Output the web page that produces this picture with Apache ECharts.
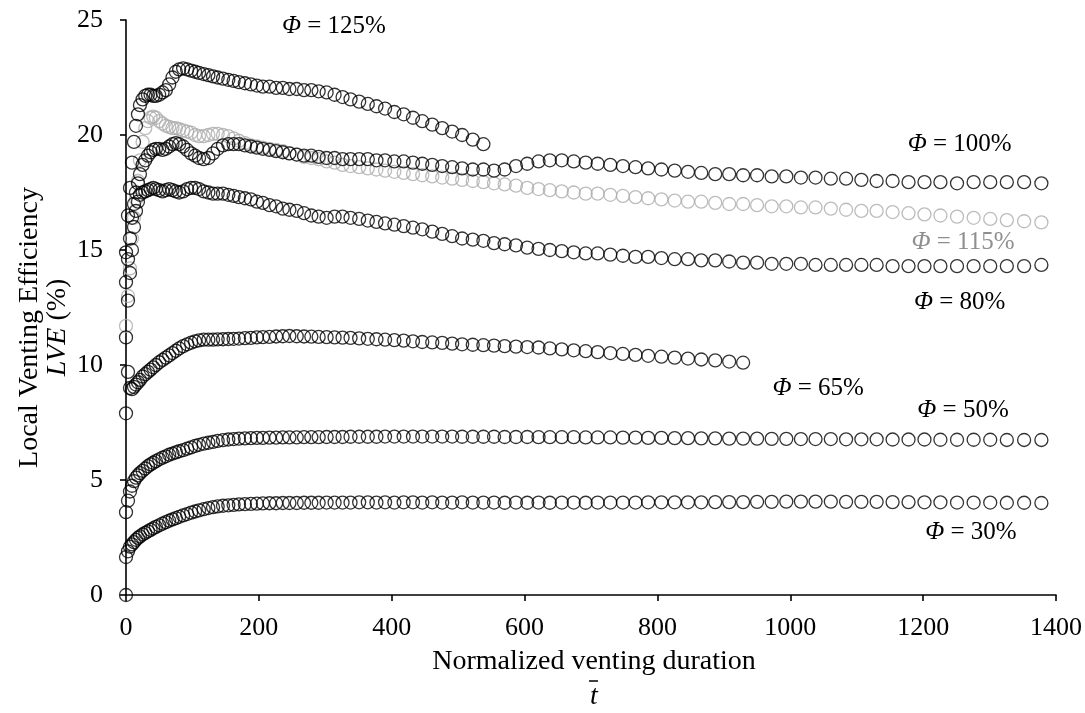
<!DOCTYPE html>
<html>
<head>
<meta charset="utf-8">
<script src="https://cdn.jsdelivr.net/npm/echarts@6/dist/echarts.min.js"></script>
<style>
html, body { margin: 0; padding: 0; background: #fff; }
#chart { width: 1085px; height: 713px; }
</style>
</head>
<body>
<div id="chart"></div>
<script>
// Normalized venting duration (shared sampling grid)
const tBar = [0, 3, 6, 9, 12, 15, 18, 21, 25, 29,
  33, 37, 41, 45, 50, 55, 60, 65, 70, 75,
  80, 86, 92, 98, 104, 110, 117, 124, 131, 138,
  146, 154, 162, 170, 179, 188, 197, 206, 216, 226,
  236, 246, 257, 268, 279, 290, 302, 314, 326, 338,
  351, 364, 377, 390, 404, 418, 432, 446, 461, 476,
  491, 506, 522, 538, 554, 570, 587, 604, 621, 638,
  656, 674, 692, 710, 729, 748, 767, 786, 806, 826,
  846, 866, 887, 908, 929, 950, 972, 994, 1016, 1038,
  1061, 1084, 1107, 1130, 1154, 1178, 1202, 1226, 1251, 1276,
  1301, 1326, 1352, 1378];

// Initial state shared by all runs: (t, LVE) = (0, 0)
const startPoint = [[0, 0]];

// Local venting efficiency LVE (%) for each fill ratio
const lve30 = [1.65, 1.9, 2.1, 2.2, 2.3, 2.4, 2.48, 2.55, 2.63, 2.7,
  2.77, 2.83, 2.9, 2.96, 3.03, 3.1, 3.17, 3.23, 3.29, 3.34,
  3.4, 3.46, 3.52, 3.58, 3.63, 3.68, 3.73, 3.78, 3.82, 3.85,
  3.88, 3.9, 3.92, 3.94, 3.95, 3.96, 3.97, 3.98, 3.99, 3.99,
  4.0, 4.0, 4.0, 4.01, 4.01, 4.01, 4.02, 4.02, 4.02, 4.02,
  4.03, 4.03, 4.02, 4.03, 4.02, 4.03, 4.03, 4.02, 4.03, 4.02,
  4.02, 4.03, 4.02, 4.02, 4.02, 4.01, 4.02, 4.01, 4.02, 4.01,
  4.02, 4.02, 4.01, 4.02, 4.02, 4.02, 4.02, 4.03, 4.03, 4.03,
  4.03, 4.03, 4.04, 4.04, 4.04, 4.05, 4.05, 4.06, 4.06, 4.06,
  4.06, 4.05, 4.05, 4.05, 4.04, 4.04, 4.03, 4.03, 4.02, 4.02,
  4.02, 4.01, 4.01, 4.0];

const lve50 = [3.6, 4.1, 4.5, 4.75, 4.95, 5.1, 5.2, 5.3, 5.4, 5.5,
  5.6, 5.68, 5.75, 5.82, 5.9, 5.97, 6.03, 6.1, 6.15, 6.2,
  6.25, 6.3, 6.36, 6.42, 6.48, 6.53, 6.58, 6.62, 6.66, 6.7,
  6.73, 6.76, 6.78, 6.8, 6.81, 6.82, 6.83, 6.83, 6.84, 6.84,
  6.85, 6.85, 6.85, 6.86, 6.86, 6.86, 6.87, 6.87, 6.87, 6.88,
  6.88, 6.88, 6.88, 6.89, 6.89, 6.89, 6.89, 6.89, 6.89, 6.89,
  6.89, 6.88, 6.88, 6.88, 6.88, 6.87, 6.87, 6.87, 6.86, 6.86,
  6.86, 6.86, 6.85, 6.85, 6.85, 6.84, 6.84, 6.83, 6.83, 6.82,
  6.82, 6.81, 6.81, 6.8, 6.8, 6.8, 6.79, 6.79, 6.78, 6.78,
  6.78, 6.77, 6.77, 6.77, 6.76, 6.76, 6.76, 6.75, 6.75, 6.75,
  6.75, 6.74, 6.74, 6.74];

const lve65 = [7.9, 9.7, 9.0, 8.95, 9.05, 9.15, 9.25, 9.35, 9.5, 9.6,
  9.7, 9.8, 9.9, 10.0, 10.12, 10.22, 10.32, 10.42, 10.52, 10.62,
  10.72, 10.82, 10.9, 10.97, 11.03, 11.07, 11.1, 11.1, 11.1, 11.11,
  11.12, 11.13, 11.14, 11.15, 11.17, 11.18, 11.2, 11.21, 11.22, 11.24,
  11.25, 11.26, 11.25, 11.24, 11.23, 11.22, 11.21, 11.2, 11.19, 11.18,
  11.16, 11.14, 11.12, 11.1, 11.08, 11.06, 11.03, 11.0, 10.98, 10.96,
  10.93, 10.9, 10.88, 10.86, 10.84, 10.82, 10.8, 10.78, 10.76, 10.72,
  10.68, 10.64, 10.6, 10.56, 10.52, 10.48, 10.44, 10.4, 10.36, 10.32,
  10.28, 10.24, 10.2, 10.15, 10.1];

const lve80 = [11.2, 12.8, 14.0, 15.0, 16.0, 16.7, 17.1, 17.4, 17.5, 17.55,
  17.6, 17.65, 17.7, 17.65, 17.6, 17.55, 17.6, 17.65, 17.6, 17.55,
  17.5, 17.55, 17.65, 17.7, 17.7, 17.65, 17.55, 17.5, 17.45, 17.45,
  17.45, 17.4, 17.35, 17.3, 17.25, 17.2, 17.1, 17.05, 16.95, 16.9,
  16.8, 16.75, 16.7, 16.6, 16.5, 16.45, 16.4, 16.45, 16.45, 16.4,
  16.35, 16.28, 16.22, 16.16, 16.1, 16.04, 15.97, 15.9, 15.8, 15.7,
  15.6, 15.5, 15.45, 15.4, 15.3, 15.25, 15.2, 15.1, 15.05, 15.0,
  14.95, 14.9, 14.85, 14.85, 14.8, 14.75, 14.7, 14.7, 14.65, 14.6,
  14.6, 14.55, 14.55, 14.5, 14.45, 14.45, 14.4, 14.4, 14.4, 14.35,
  14.35, 14.35, 14.35, 14.35, 14.3, 14.3, 14.3, 14.3, 14.3, 14.3,
  14.3, 14.3, 14.3, 14.35];

const lve100 = [13.6, 14.6, 15.5, 16.4, 17.0, 17.5, 17.9, 18.3, 18.7, 18.9,
  19.1, 19.25, 19.35, 19.4, 19.4, 19.35, 19.4, 19.5, 19.6, 19.65,
  19.6, 19.5, 19.35, 19.2, 19.1, 19.0, 18.95, 19.0, 19.2, 19.4,
  19.55, 19.6, 19.6, 19.6, 19.55, 19.5, 19.45, 19.4, 19.35, 19.3,
  19.25, 19.2, 19.15, 19.1, 19.1, 19.05, 19.0, 19.0, 18.95, 18.95,
  18.95, 18.95, 18.9, 18.9, 18.85, 18.85, 18.8, 18.75, 18.7, 18.65,
  18.6, 18.55, 18.5, 18.5, 18.45, 18.5, 18.65, 18.75, 18.85, 18.9,
  18.9, 18.85, 18.8, 18.75, 18.7, 18.65, 18.6, 18.55, 18.5, 18.45,
  18.4, 18.35, 18.3, 18.3, 18.25, 18.25, 18.2, 18.2, 18.15, 18.15,
  18.1, 18.1, 18.05, 18.0, 18.0, 17.95, 17.95, 17.95, 17.9, 17.95,
  17.95, 17.95, 17.95, 17.9];

const lve115 = [11.7, 13.0, 14.2, 15.5, 16.4, 17.2, 18.0, 18.9, 19.7, 20.3,
  20.6, 20.75, 20.8, 20.75, 20.6, 20.5, 20.4, 20.35, 20.3, 20.3,
  20.25, 20.2, 20.15, 20.1, 20.0, 19.95, 19.95, 20.0, 20.05, 20.05,
  20.0, 19.95, 19.85, 19.75, 19.65, 19.55, 19.5, 19.45, 19.4, 19.35,
  19.3, 19.2, 19.15, 19.05, 19.0, 18.95, 18.85, 18.8, 18.7, 18.65,
  18.6, 18.55, 18.5, 18.45, 18.4, 18.35, 18.3, 18.25, 18.2, 18.15,
  18.1, 18.05, 18.0, 17.95, 17.9, 17.85, 17.8, 17.7, 17.65, 17.6,
  17.55, 17.5, 17.45, 17.45, 17.4, 17.35, 17.3, 17.25, 17.2, 17.15,
  17.1, 17.1, 17.05, 17.0, 17.0, 16.95, 16.9, 16.9, 16.85, 16.85,
  16.8, 16.75, 16.7, 16.7, 16.65, 16.6, 16.55, 16.5, 16.45, 16.4,
  16.35, 16.3, 16.25, 16.2];

const lve125 = [14.9, 16.5, 17.7, 18.8, 19.7, 20.4, 20.9, 21.3, 21.55, 21.7,
  21.75, 21.75, 21.7, 21.7, 21.75, 21.85, 21.95, 22.2, 22.5, 22.75,
  22.85, 22.9, 22.85, 22.8, 22.75, 22.7, 22.65, 22.6, 22.55, 22.5,
  22.45, 22.4, 22.35, 22.3, 22.25, 22.2, 22.15, 22.1, 22.1, 22.05,
  22.05, 22.0, 22.0, 21.95, 21.95, 21.9, 21.85, 21.75, 21.65, 21.55,
  21.45, 21.35, 21.25, 21.15, 21.0, 20.9, 20.75, 20.6, 20.45, 20.3,
  20.15, 20.0, 19.8, 19.6];

// Axis tick values
const xTicks = [0, 200, 400, 600, 800, 1000, 1200, 1400];
const yTicks = [0, 5, 10, 15, 20, 25];

// Curve labels: fill ratio text and where it sits (axis units)
const phiText = ['125%', '100%', '115%', '80%', '65%', '50%', '30%'];
const phiAnchor = [[313, 24.7], [1255, 19.57], [1260, 15.35], [1255, 12.74], [1042, 9.0], [1260, 8.04], [1272, 2.74]];
const phiGray = [false, false, true, false, false, false, false];

const FONT = '"Liberation Serif", "Times New Roman", serif';
const BLACK = '#000000';
const GRAY_RING = '#ababab';
const GRAY_TEXT = '#8f8f8f';

function ringSeries(name, points, color) {
  return {
    type: 'scatter',
    name: name,
    data: points,
    symbol: 'circle',
    symbolSize: 13,
    itemStyle: { color: 'rgba(255,255,255,0)', borderColor: color, borderWidth: 1.3 },
    emphasis: { disabled: true },
    silent: true,
    animation: false
  };
}
const pair = (ys) => ys.map((v, i) => [tBar[i], v]);

const chart = echarts.init(document.getElementById('chart'), null, { renderer: 'canvas' });

const axisCommon = {
  axisLine: { show: true, onZero: false, lineStyle: { color: '#000', width: 1.6 } },
  axisTick: { show: true, inside: false, length: 6, lineStyle: { color: '#000', width: 1.6 } },
  splitLine: { show: false },
  axisLabel: { color: '#000', fontFamily: FONT, fontSize: 26, formatter: (v) => String(v) }
};

chart.setOption({
  animation: false,
  backgroundColor: '#ffffff',
  grid: { left: 126, right: 29, top: 20, bottom: 118, containLabel: false },
  xAxis: Object.assign({}, axisCommon, {
    type: 'value', min: xTicks[0], max: xTicks[xTicks.length - 1], interval: xTicks[1] - xTicks[0],
    axisLabel: Object.assign({}, axisCommon.axisLabel, { margin: 20 })
  }),
  yAxis: Object.assign({}, axisCommon, {
    type: 'value', min: yTicks[0], max: yTicks[yTicks.length - 1], interval: yTicks[1] - yTicks[0],
    axisLabel: Object.assign({}, axisCommon.axisLabel, { margin: 23 })
  }),
  series: [
    ringSeries('Φ = 115%', pair(lve115), GRAY_RING),
    ringSeries('start', startPoint, BLACK),
    ringSeries('Φ = 30%', pair(lve30), BLACK),
    ringSeries('Φ = 50%', pair(lve50), BLACK),
    ringSeries('Φ = 65%', pair(lve65), BLACK),
    ringSeries('Φ = 80%', pair(lve80), BLACK),
    ringSeries('Φ = 100%', pair(lve100), BLACK),
    ringSeries('Φ = 125%', pair(lve125), BLACK)
  ]
});

// Titles and curve labels
const graphics = [];
phiText.forEach((t, i) => {
  const p = chart.convertToPixel({ gridIndex: 0 }, phiAnchor[i]);
  const col = phiGray[i] ? GRAY_TEXT : BLACK;
  graphics.push({
    type: 'text', x: p[0], y: p[1], silent: true,
    style: {
      text: '{p|Φ} = ' + t,
      fill: col, fontFamily: FONT, fontSize: 25,
      align: 'center', verticalAlign: 'middle',
      rich: { p: { fontStyle: 'italic', fill: col, fontFamily: FONT, fontSize: 25 } }
    }
  });
});

const gridRect = chart.getModel().getComponent('grid').coordinateSystem.getRect();
const midX = gridRect.x + gridRect.width / 2;
const midY = gridRect.y + gridRect.height / 2;

graphics.push({
  type: 'text', x: midX + 3, y: 662, silent: true,
  style: { text: 'Normalized venting duration', fill: '#000', fontFamily: FONT, fontSize: 28, align: 'center', verticalAlign: 'middle' }
});
graphics.push({
  type: 'text', x: midX + 3, y: 697, silent: true,
  style: { text: 't', fill: '#000', fontFamily: FONT, fontSize: 28, fontStyle: 'italic', align: 'center', verticalAlign: 'middle' }
});
graphics.push({
  type: 'line', silent: true,
  shape: { x1: midX - 2, y1: 681, x2: midX + 7, y2: 681 },
  style: { stroke: '#000', lineWidth: 1.5 }
});
graphics.push({
  type: 'text', x: 30, y: midY + 20, rotation: Math.PI / 2, silent: true,
  style: { text: 'Local Venting Efficiency', fill: '#000', fontFamily: FONT, fontSize: 28, align: 'center', verticalAlign: 'middle' }
});
graphics.push({
  type: 'text', x: 58, y: midY + 20, rotation: Math.PI / 2, silent: true,
  style: {
    text: '{i|LVE} (%)', fill: '#000', fontFamily: FONT, fontSize: 28, align: 'center', verticalAlign: 'middle',
    rich: { i: { fontStyle: 'italic', fill: '#000', fontFamily: FONT, fontSize: 28 } }
  }
});

chart.setOption({ graphic: graphics });
</script>
</body>
</html>
